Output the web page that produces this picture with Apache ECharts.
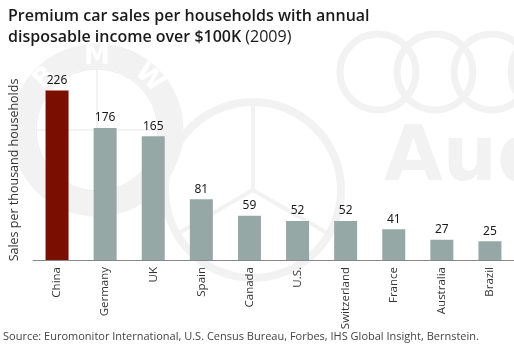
<!DOCTYPE html>
<html>
<head>
<meta charset="utf-8">
<script src="https://cdn.jsdelivr.net/npm/echarts@6/dist/echarts.min.js"></script>
<style>
  html, body { margin: 0; padding: 0; background: #fff; }
  #chart { width: 514px; height: 354px; }
</style>
</head>
<body>
<div id="chart"></div>
<script>
// data
const countries = ['China', 'Germany', 'UK', 'Spain', 'Canada', 'U.S.', 'Switzerland', 'France', 'Australia', 'Brazil'];
const sales = [226, 176, 165, 81, 59, 52, 52, 41, 27, 25];
const highlight = 'China';

const chart = echarts.init(document.getElementById('chart'));

const markColor = '#f2f2f2';
const uiFont = '"Open Sans", sans-serif';

// faint car logos behind the bars
const logos = [
    // BMW
    { type: 'circle', shape: { cx: 97, cy: 130, r: 74 }, style: { fill: null, stroke: markColor, lineWidth: 25 }, z: -10 },
    { type: 'circle', shape: { cx: 97, cy: 130, r: 61 }, style: { fill: null, stroke: '#ebebeb', lineWidth: 1 }, z: -10 },
    { type: 'line', shape: { x1: 97, y1: 69, x2: 97, y2: 191 }, style: { stroke: markColor, lineWidth: 2 }, z: -10 },
    { type: 'line', shape: { x1: 36, y1: 130, x2: 158, y2: 130 }, style: { stroke: markColor, lineWidth: 2 }, z: -10 },
    { type: 'text', x: 97, y: 57, z: -9,
      style: { text: 'M', fill: '#fff', font: 'bold 26px "DejaVu Sans"', align: 'center', verticalAlign: 'middle' } },
    { type: 'text', x: 149, y: 78, rotation: -Math.PI / 4, z: -9,
      style: { text: 'W', fill: '#fff', font: 'bold 26px "DejaVu Sans"', align: 'center', verticalAlign: 'middle' } },
    { type: 'text', x: 45, y: 78, rotation: Math.PI / 4, z: -9,
      style: { text: 'B', fill: '#fff', font: 'bold 26px "DejaVu Sans"', align: 'center', verticalAlign: 'middle' } },
    // Mercedes
    { type: 'circle', shape: { cx: 253, cy: 190, r: 88 }, style: { fill: null, stroke: markColor, lineWidth: 8 }, z: -10 },
    { type: 'line', shape: { x1: 253, y1: 104, x2: 253, y2: 190 }, style: { stroke: markColor, lineWidth: 4 }, z: -10 },
    { type: 'line', shape: { x1: 253, y1: 190, x2: 179, y2: 233 }, style: { stroke: markColor, lineWidth: 4 }, z: -10 },
    { type: 'line', shape: { x1: 253, y1: 190, x2: 327, y2: 233 }, style: { stroke: markColor, lineWidth: 4 }, z: -10 },
    // Audi
    { type: 'circle', shape: { cx: 378, cy: 72, r: 38 }, style: { fill: null, stroke: markColor, lineWidth: 7 }, z: -10 },
    { type: 'circle', shape: { cx: 435, cy: 72, r: 38 }, style: { fill: null, stroke: markColor, lineWidth: 7 }, z: -10 },
    { type: 'circle', shape: { cx: 492, cy: 72, r: 38 }, style: { fill: null, stroke: markColor, lineWidth: 7 }, z: -10 },
    { type: 'circle', shape: { cx: 549, cy: 72, r: 38 }, style: { fill: null, stroke: markColor, lineWidth: 7 }, z: -10 },
    { type: 'text', x: 384, y: 198, z: -10,
      style: { text: 'Audi', fill: markColor, font: 'bold 76px "DejaVu Sans"', verticalAlign: 'bottom' } }
];

const option = {
    animation: false,
    backgroundColor: '#fff',
    textStyle: { fontFamily: uiFont },
    title: {
        left: 3,
        top: 1,
        text: 'Premium car sales per households with annual\ndisposable income over $100K {y|(2009)}',
        textStyle: {
            fontFamily: uiFont,
            fontSize: 16,
            fontWeight: 600,
            color: '#1a1a1a',
            lineHeight: 21,
            rich: {
                y: { fontFamily: uiFont, fontSize: 16, fontWeight: 'normal', color: '#1a1a1a', lineHeight: 21 }
            }
        }
    },
    graphic: logos.concat([
        {
            type: 'text',
            left: 3,
            top: 331,
            style: {
                text: 'Source: Euromonitor International, U.S. Census Bureau, Forbes, IHS Global Insight, Bernstein.',
                fill: '#444',
                font: '11px "Open Sans", sans-serif'
            }
        }
    ]),
    grid: { left: 28, right: -3, top: 80, bottom: 94 },
    xAxis: {
        type: 'category',
        data: countries,
        axisLine: { lineStyle: { color: '#888', width: 1 } },
        axisTick: { show: false },
        axisLabel: {
            rotate: 90,
            margin: 7,
            fontSize: 11.5,
            color: '#333',
            fontFamily: uiFont
        }
    },
    yAxis: {
        type: 'value',
        min: 0,
        max: 240,
        axisLine: { show: false },
        axisTick: { show: false },
        axisLabel: { show: false },
        splitLine: { show: false },
        name: 'Sales per thousand households',
        nameLocation: 'middle',
        nameRotate: 90,
        nameGap: 12,
        nameTextStyle: { fontSize: 12.5, color: '#333', fontFamily: uiFont }
    },
    series: [{
        type: 'bar',
        barWidth: 23,
        data: sales.map((v, i) => ({
            value: v,
            itemStyle: { color: countries[i] === highlight ? '#7a0e00' : '#96a8a6' }
        })),
        label: {
            show: true,
            position: 'top',
            distance: 4,
            fontSize: 12,
            color: '#1a1a1a',
            fontFamily: '"Noto Sans", sans-serif'
        }
    }]
};

chart.setOption(option);

window.addEventListener('resize', function() {
    chart.resize();
});
</script>
</body>
</html>
